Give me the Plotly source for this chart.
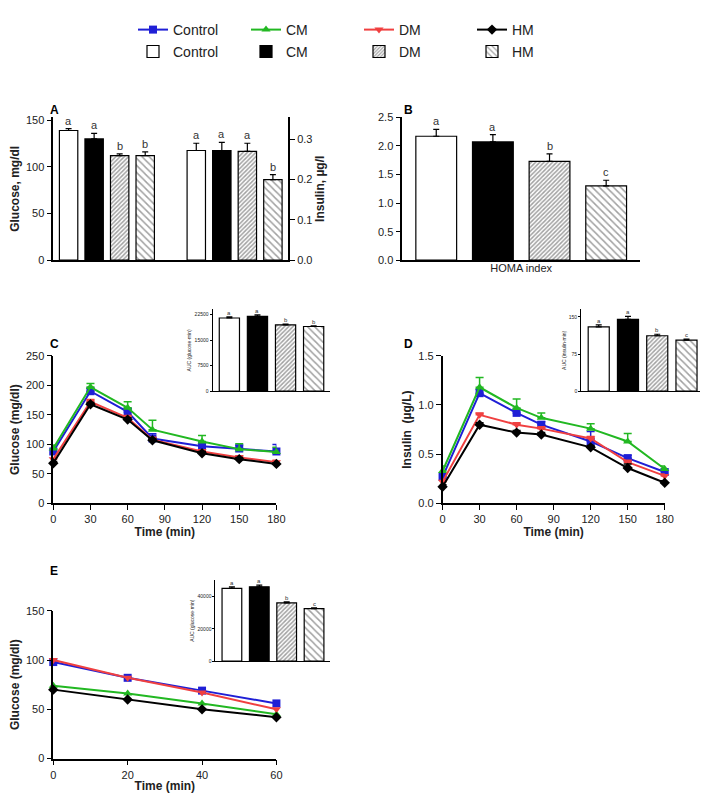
import plotly.graph_objects as go

W, H = 708, 794
groups = ["Control", "CM", "DM", "HM"]
line_colors = ["#1f1fd6", "#22b822", "#f04040", "#000000"]
line_symbols = ["square", "triangle-up", "triangle-down", "diamond"]

# Panel A
glucose_A = [139, 130, 112, 112]
glucose_A_err = [2, 6, 2, 4]
glucose_A_letters = ["a", "a", "b", "b"]
insulin_A = [0.272, 0.272, 0.27, 0.2]
insulin_A_err = [0.018, 0.02, 0.02, 0.012]
insulin_A_letters = ["a", "a", "a", "b"]
# Panel B
homa = [2.17, 2.07, 1.73, 1.3]
homa_err = [0.12, 0.13, 0.13, 0.1]
homa_letters = ["a", "a", "b", "c"]
# Panel C
time_C = [0, 30, 60, 80, 120, 150, 180]
time_ticks = [0, 30, 60, 90, 120, 150, 180]
gtt = {
    "Control": [88, 190, 155, 110, 97, 93, 88],
    "CM": [93, 197, 162, 125, 105, 92, 87],
    "DM": [75, 172, 145, 108, 88, 78, 70],
    "HM": [68, 168, 142, 107, 85, 75, 67],
}
gtt_err = {
    "Control": [4, 5, 6, 8, 6, 6, 12],
    "CM": [6, 6, 10, 16, 10, 9, 8],
    "DM": [3, 4, 4, 4, 3, 3, 3],
    "HM": [3, 3, 3, 3, 3, 3, 2],
}
auc_C = [21500, 22000, 19500, 19000]
auc_C_err = [300, 400, 200, 200]
auc_C_letters = ["a", "a", "b", "b"]
# Panel D
ins = {
    "Control": [0.27, 1.12, 0.92, 0.8, 0.63, 0.46, 0.32],
    "CM": [0.33, 1.18, 0.97, 0.87, 0.76, 0.63, 0.35],
    "DM": [0.22, 0.9, 0.8, 0.76, 0.66, 0.42, 0.28],
    "HM": [0.17, 0.8, 0.72, 0.7, 0.57, 0.36, 0.21],
}
ins_err = {
    "Control": [0.03, 0.04, 0.04, 0.03, 0.1, 0.03, 0.03],
    "CM": [0.05, 0.1, 0.09, 0.05, 0.05, 0.08, 0.03],
    "DM": [0.02, 0.02, 0.02, 0.02, 0.02, 0.02, 0.02],
    "HM": [0.02, 0.02, 0.02, 0.02, 0.02, 0.04, 0.02],
}
auc_D = [130, 145, 112, 103]
auc_D_err = [4, 6, 3, 2]
auc_D_letters = ["a", "a", "b", "c"]
# Panel E
time_E = [0, 20, 40, 60]
itt = {
    "Control": [98, 82, 69, 56],
    "CM": [74, 66, 56, 45],
    "DM": [100, 82, 67, 50],
    "HM": [70, 60, 50, 42],
}
auc_E = [45000, 46000, 36000, 32500]
auc_E_err = [900, 1000, 600, 400]
auc_E_letters = ["a", "a", "b", "c"]

FONT = "Liberation Sans"
bar_fill = [dict(color="white"), dict(color="black"),
            dict(color="white", pattern=dict(shape="/", fgcolor="#444", size=3, solidity=0.5)),
            dict(color="white", pattern=dict(shape="\\", fgcolor="#444", size=5, solidity=0.3))]

def xd(a, b): return [a / W, b / W]
def yd(top, bot): return [1 - bot / H, 1 - top / H]

fig = go.Figure()
ann = []

def bar(xa, ya, xs, vals, errs, letters, legend=None, fs=11, shift=8):
    for i, g in enumerate(groups):
        m = bar_fill[i]
        fig.add_trace(go.Bar(
            x=[xs[i]], y=[vals[i]], xaxis=xa, yaxis=ya, width=0.72,
            marker=dict(color=m["color"], pattern=m.get("pattern"), line=dict(color="black", width=1.2)),
            error_y=dict(type="data", array=[errs[i]], arrayminus=[0], color="black", thickness=1.2, width=3),
            name=g, showlegend=legend is not None, legend=legend or "legend2"))
        ann.append(dict(x=xs[i], y=vals[i] + errs[i], xref=xa, yref=ya, text=letters[i], showarrow=False,
                        yshift=shift, font=dict(size=fs, color="#333")))

bar("x", "y", [0, 1, 2, 3], glucose_A, glucose_A_err, glucose_A_letters, legend="legend2")
bar("x", "y2", [5, 6, 7, 8], insulin_A, insulin_A_err, insulin_A_letters)
bar("x2", "y3", [0, 1, 2, 3], homa, homa_err, homa_letters)

def lines(xa, ya, xs, data, errs=None, legend=False):
    for i, g in enumerate(groups):
        fig.add_trace(go.Scatter(
            x=xs, y=data[g], xaxis=xa, yaxis=ya, mode="lines+markers", cliponaxis=False,
            line=dict(color=line_colors[i], width=2),
            marker=dict(symbol=line_symbols[i], size=8, color=line_colors[i]),
            error_y=(dict(type="data", array=errs[g], arrayminus=[0] * len(xs), color=line_colors[i], thickness=1.5, width=4) if errs else None),
            name=g, showlegend=legend, legend="legend"))

lines("x3", "y4", time_C, gtt, gtt_err, legend=True)
bar("x4", "y5", [0, 1, 2, 3], auc_C, auc_C_err, auc_C_letters, fs=6, shift=4)
lines("x5", "y6", time_C, ins, ins_err)
bar("x6", "y7", [0, 1, 2, 3], auc_D, auc_D_err, auc_D_letters, fs=6, shift=4)
lines("x7", "y8", time_E, itt)
bar("x8", "y9", [0, 1, 2, 3], auc_E, auc_E_err, auc_E_letters, fs=6, shift=4)

ax = dict(showline=True, linecolor="black", linewidth=1.5, ticks="outside", tickcolor="black",
          showgrid=False, zeroline=False, tickfont=dict(size=11, color="#222", family=FONT))
small = dict(ax, tickfont=dict(size=5, color="#222", family=FONT), ticklen=2, linewidth=1)
tfont = dict(size=12, color="#222", family=FONT)

fig.update_layout(
    width=W, height=H, margin=dict(l=0, r=0, t=0, b=0), paper_bgcolor="white", plot_bgcolor="white",
    barmode="overlay", font=dict(family=FONT, color="#222"),
    xaxis=dict(ax, anchor="y", domain=xd(43, 282), range=[-0.6, 8.6], showticklabels=False, ticks=""),
    yaxis=dict(ax, anchor="x", domain=yd(105, 250), range=[0, 153], tickvals=[0, 50, 100, 150],
               title=dict(text="<b>Glucose, mg/dl</b>", font=tfont, standoff=4)),
    yaxis2=dict(ax, overlaying="y", side="right", anchor="x", range=[0, 0.354], tickvals=[0, 0.1, 0.2, 0.3],
                tickformat=".1f", title=dict(text="<b>Insulin, µg/l</b>", font=tfont, standoff=4)),
    xaxis2=dict(ax, anchor="y3", domain=xd(398, 640), range=[-0.6, 3.6], showticklabels=False, ticks="",
                title=dict(text="HOMA index", font=dict(size=11, color="#222"), standoff=3)),
    yaxis3=dict(ax, anchor="x2", domain=yd(105, 250), range=[0, 2.5], dtick=0.5, tickformat=".1f"),
    xaxis3=dict(ax, anchor="y4", domain=xd(43, 270), range=[0, 180], tickvals=time_ticks,
                title=dict(text="<b>Time (min)</b>", font=tfont, standoff=2)),
    yaxis4=dict(ax, anchor="x3", domain=yd(347, 497), range=[0, 250], dtick=50,
                title=dict(text="<b>Glucose (mg/dl)</b>", font=tfont, standoff=4)),
    xaxis4=dict(small, anchor="y5", domain=xd(205, 325), range=[-0.6, 3.6], showticklabels=False, ticks=""),
    yaxis5=dict(small, anchor="x4", domain=yd(300, 383), range=[0, 24000], tickvals=[0, 7500, 15000, 22500],
                tickformat="d", title=dict(text="AUC (glucose·min)", font=dict(size=5), standoff=2)),
    xaxis5=dict(ax, anchor="y6", domain=xd(439, 665), range=[0, 180], tickvals=time_ticks,
                title=dict(text="<b>Time (min)</b>", font=tfont, standoff=2)),
    yaxis6=dict(ax, anchor="x5", domain=yd(347, 497), range=[0, 1.5], dtick=0.5, tickformat=".1f",
                title=dict(text="<b>Insulin  (µg/L)</b>", font=tfont, standoff=4)),
    xaxis6=dict(small, anchor="y7", domain=xd(580, 705), range=[-0.6, 3.6], showticklabels=False, ticks=""),
    yaxis7=dict(small, anchor="x6", domain=yd(300, 383), range=[0, 165], tickvals=[0, 75, 150],
                title=dict(text="AUC (insulin·min)", font=dict(size=5), standoff=2)),
    xaxis7=dict(ax, anchor="y8", domain=xd(43, 270), range=[0, 60], dtick=20,
                title=dict(text="<b>Time (min)</b>", font=tfont, standoff=2)),
    yaxis8=dict(ax, anchor="x7", domain=yd(606, 756), range=[0, 150], dtick=50,
                title=dict(text="<b>Glucose (mg/dl)</b>", font=tfont, standoff=4)),
    xaxis8=dict(small, anchor="y9", domain=xd(208, 325), range=[-0.6, 3.6], showticklabels=False, ticks=""),
    yaxis9=dict(small, anchor="x8", domain=yd(575, 657), range=[0, 50000], tickvals=[0, 20000, 40000],
                tickformat="d", title=dict(text="AUC (glucose·min)", font=dict(size=5), standoff=2)),
    legend=dict(orientation="h", x=0.5, xanchor="center", y=1.0, yanchor="top", font=dict(size=14),
                entrywidth=68, bgcolor="rgba(0,0,0,0)"),
    legend2=dict(orientation="h", x=0.5, xanchor="center", y=0.972, yanchor="top", font=dict(size=14),
                 entrywidth=68, bgcolor="rgba(0,0,0,0)"),
)

for lab, x, y in [("A", 38, 88), ("B", 398, 88), ("C", 38, 335), ("D", 398, 335), ("E", 38, 575)]:
    ann.append(dict(x=x / W, y=1 - y / H, xref="paper", yref="paper", text=f"<b>{lab}</b>", showarrow=False,
                    xanchor="left", font=dict(size=12, color="black")))
fig.update_layout(annotations=ann)
fig.write_html("out.html")
